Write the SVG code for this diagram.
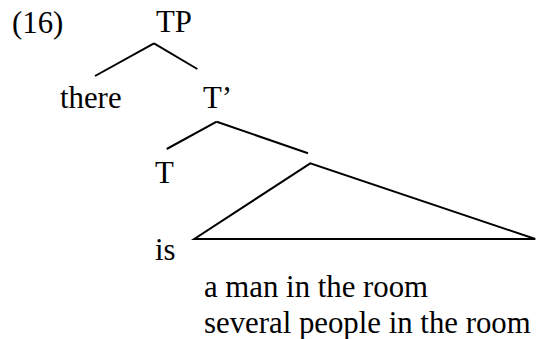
<svg xmlns="http://www.w3.org/2000/svg" width="544" height="339" viewBox="0 0 544 339">
<style>
text{font-family:"Liberation Serif","Times New Roman",serif;font-size:30.8px;fill:#000}
.e{stroke:#000;stroke-width:2;fill:none;stroke-linecap:butt;stroke-linejoin:miter}
</style>
<rect width="544" height="339" fill="#fff"/>
<text id="ex" x="12" y="33">(16)</text>
<g id="TP"><text x="156" y="32">TP</text></g>
<g id="there"><text x="60" y="108">there</text></g>
<g id="Tbar"><text x="203" y="108">T’</text></g>
<g id="T"><text x="155" y="183">T</text></g>
<g id="is"><text x="155" y="260">is</text></g>
<g id="triangle"><polygon class="e" points="310.3,163.3 194.3,239 535.3,239"/></g>
<g id="yield"><text x="204" y="297">a man in the room</text><text x="204" y="333">several people in the room</text></g>
<g id="connectors">
<line class="e" x1="154" y1="43.3" x2="95" y2="76"/>
<line class="e" x1="154" y1="43.3" x2="197.3" y2="69"/>
<line class="e" x1="216.7" y1="121.7" x2="166.7" y2="149"/>
<line class="e" x1="216.7" y1="121.7" x2="308" y2="153.3"/>
</g>
</svg>
